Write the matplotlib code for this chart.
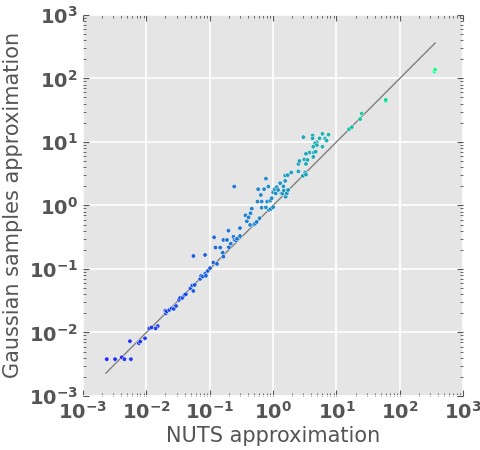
import numpy as np
import matplotlib
matplotlib.use('Agg')
import matplotlib.pyplot as plt

# NUTS estimate (x) vs Gaussian samples estimate (y)
nuts = [2.37e-3, 3.2e-3, 4.1e-3, 4.5e-3, 5.7e-3, 5.5e-3, 7.6e-3, 8.0e-3, 9.5e-3,
        0.0111, 0.0121, 0.0151, 0.014, 0.0202, 0.0199, 0.021, 0.023, 0.025, 0.027,
        0.0294, 0.0328, 0.034, 0.037, 0.0398, 0.042, 0.0495, 0.053, 0.055, 0.058,
        0.0705, 0.073, 0.078, 0.085, 0.087, 0.093,
        0.0552, 0.0843, 0.101, 0.114, 0.13, 0.117, 0.123, 0.146, 0.16, 0.164,
        0.164, 0.187, 0.197, 0.2, 0.215, 0.237, 0.245, 0.243, 0.26, 0.27, 0.3,
        0.3, 0.366, 0.385, 0.41, 0.434, 0.44, 0.461, 0.5, 0.52, 0.55, 0.566,
        0.61, 0.64, 0.66, 0.66, 0.58, 0.72, 0.77, 0.77, 0.805, 0.84, 0.86, 0.9,
        0.92, 0.95, 1.0, 1.0, 1.06, 1.1, 1.14, 1.2, 1.29, 1.35, 1.42, 1.45, 1.48,
        1.55, 1.58, 1.65, 1.72, 1.55, 1.7, 1.93, 2.5, 2.95, 3.2, 3.3,
        2.5, 2.6, 3.1, 3.3, 3.5, 3.76, 3.3, 4.3, 4.4, 4.7,
        3.0, 4.2, 4.2, 4.9, 4.6, 4.9, 5.4, 6.0, 6.6, 7.0, 7.5, 6.0, 4.3,
        15.8, 17.5, 23.6, 25.0, 60.0, 60.0, 350.0, 360.0]
gauss = [3.8e-3, 3.8e-3, 4.07e-3, 3.8e-3, 3.8e-3, 7.3e-3, 6.8e-3, 7.2e-3, 8.1e-3,
         0.0116, 0.012, 0.0126, 0.0116, 0.020, 0.022, 0.0215, 0.0226, 0.024, 0.0235,
         0.0261, 0.0325, 0.035, 0.035, 0.0389, 0.04, 0.0497, 0.055, 0.045, 0.056,
         0.0697, 0.078, 0.076, 0.085, 0.078, 0.093,
         0.16, 0.166, 0.103, 0.126, 0.12, 0.315, 0.217, 0.217, 0.18, 0.156,
         0.286, 0.286, 0.40, 0.22, 0.25, 0.32, 0.287, 1.98, 0.28, 0.3, 0.33,
         0.44, 0.70, 0.563, 0.65, 0.493, 0.753, 0.89, 0.5, 0.52, 0.55, 1.15,
         0.63, 1.46, 0.92, 1.15, 1.8, 1.8, 2.64, 0.93, 1.15, 1.98, 0.85, 1.19,
         0.88, 1.3, 0.94, 1.61, 1.8, 1.55, 1.94, 1.75, 2.24, 1.55, 1.55, 2.0, 1.72,
         2.43, 1.37, 1.55, 1.75, 2.95, 3.0, 3.3, 3.43, 2.92, 3.3, 3.05,
         4.5, 5.0, 5.3, 4.5, 5.2, 6.8, 6.5, 5.8, 6.8, 7.0,
         11.9, 12.6, 11.4, 9.9, 9.5, 8.9, 11.4, 13.4, 11.3, 10.5, 13.0, 8.4, 8.4,
         15.9, 17.0, 22.8, 28.0, 44.0, 46.0, 128.0, 138.0]

line_ends = [2.3e-3, 360.0]
decades = [-3, -2, -1, 0, 1, 2, 3]

plt.style.use('ggplot')
fig = plt.figure(figsize=(4.8, 4.5), dpi=100)
ax = fig.add_axes([0.173, 0.12, 0.792, 0.847])

nuts = np.array(nuts)
gauss = np.array(gauss)
ax.plot(line_ends, line_ends, color='gray', linewidth=1, zorder=2)
ax.scatter(nuts, gauss, c=np.log10(nuts), cmap='winter', vmin=-2.7, vmax=2.6,
           s=10, edgecolors='white', linewidths=0.4, alpha=0.85, zorder=3)

ax.set_xscale('log')
ax.set_yscale('log')
ax.set_xlim(1e-3, 1e3)
ax.set_ylim(1e-3, 1e3)
ticks = [10.0 ** d for d in decades]
labels = [r'$\mathbf{10^{%d}}$' % d for d in decades]
ax.set_xticks(ticks)
ax.set_xticklabels(labels)
ax.set_yticks(ticks)
ax.set_yticklabels(labels)
ax.tick_params(which='both', direction='in', top=True, right=True,
               colors='#555555', labelsize=14)
ax.tick_params(which='major', length=4)
ax.tick_params(which='minor', length=2)
ax.grid(True, which='major', color='white', linewidth=1.2)
ax.grid(False, which='minor')
for s in ax.spines.values():
    s.set_visible(False)

ax.set_xlabel('NUTS approximation', fontsize=15, color='#555555', labelpad=2)
ax.set_ylabel('Gaussian samples approximation', fontsize=15, color='#555555', labelpad=4)

fig.savefig('out.png', dpi=100)
